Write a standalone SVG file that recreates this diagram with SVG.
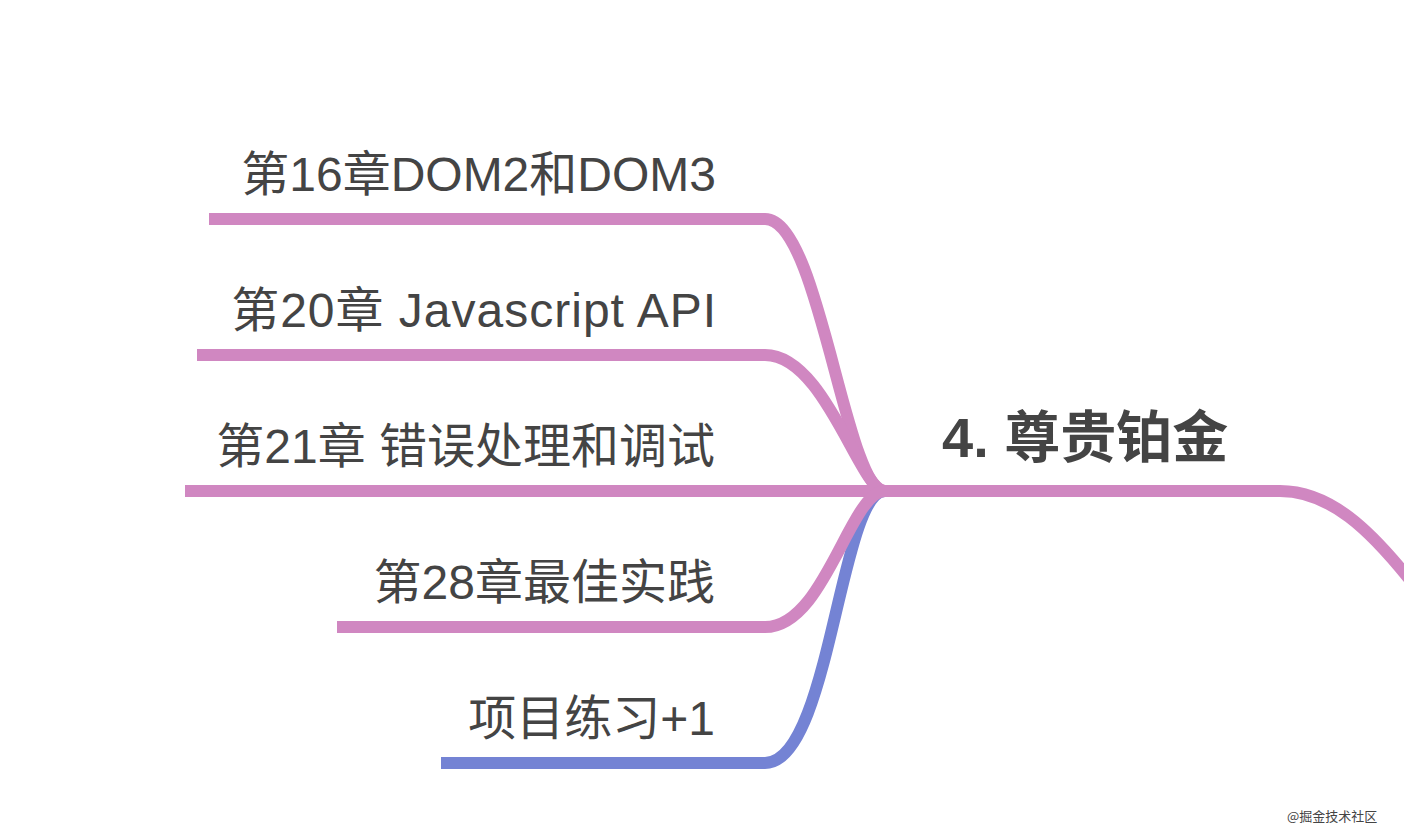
<svg xmlns="http://www.w3.org/2000/svg" width="1404" height="840" viewBox="0 0 1404 840">
<style>
.lbl{font-family:"Liberation Sans","Noto Sans CJK SC",sans-serif;font-size:48px;fill:#444;text-anchor:end}
.title{font-family:"Liberation Sans","Noto Sans CJK SC",sans-serif;font-size:56px;font-weight:bold;fill:#444}
.ln{fill:none;stroke-width:12;stroke-linecap:butt}
.pk{stroke:#d087c1}
.bl{stroke:#7483d4}
.wm{font-family:"Noto Sans CJK SC",sans-serif;font-size:13px;fill:#444}
</style>
<rect width="1404" height="840" fill="#fff"/>
<g id="connectors">
<path class="ln pk" d="M885 491 H1280 C1330 491 1370 530 1410 580"/>
<path class="ln bl" d="M441 763 H765 C830 763 840 491 885 491"/>
<path class="ln pk" d="M209 219 H765 C820 219 845 491 885 491"/>
<path class="ln pk" d="M197 355 H765 C825 355 860 491 885 491"/>
<path class="ln pk" d="M185 491 H885"/>
<path class="ln pk" d="M337 627 H765 C825 627 850 491 885 491"/>
</g>
<g id="root"><text class="title" x="942" y="457">4. 尊贵铂金</text></g>
<g id="n1"><text class="lbl" x="716" y="191">第16章DOM2和DOM3</text></g>
<g id="n2"><text class="lbl" x="717" y="327" letter-spacing="1">第20章 Javascript API</text></g>
<g id="n3"><text class="lbl" x="715" y="463">第21章 错误处理和调试</text></g>
<g id="n4"><text class="lbl" x="715" y="599">第28章最佳实践</text></g>
<g id="n5"><text class="lbl" x="715" y="735">项目练习+1</text></g>
<text class="wm" x="1287" y="821">@掘金技术社区</text>
</svg>
